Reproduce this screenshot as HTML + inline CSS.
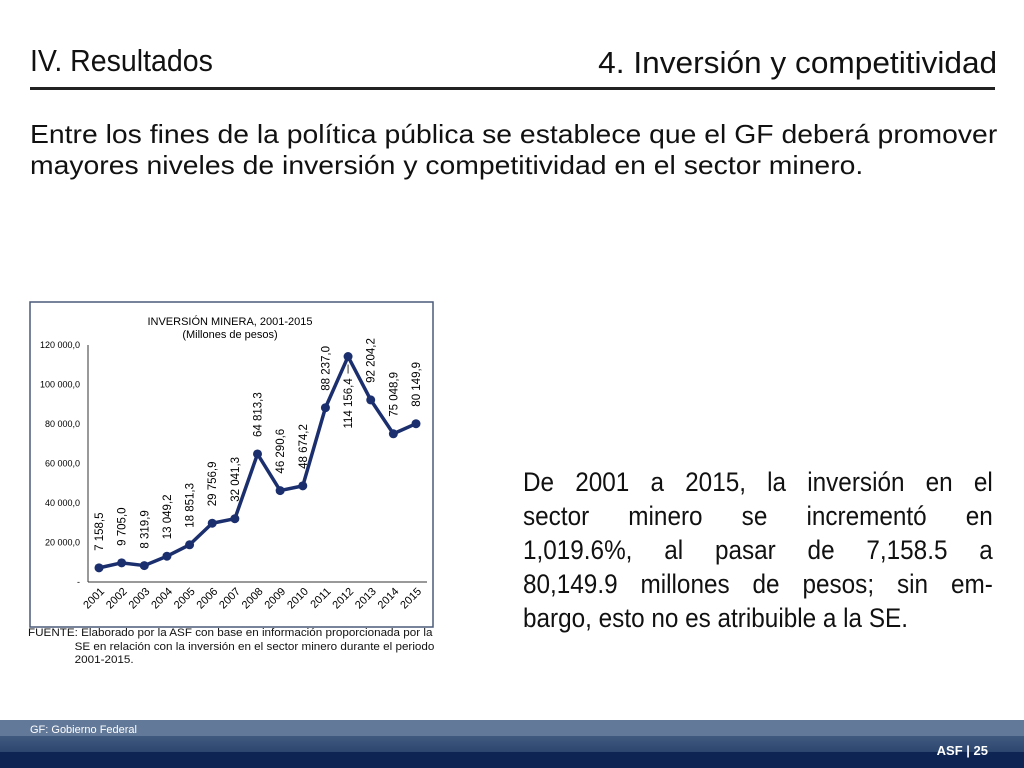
<!DOCTYPE html>
<html><head><meta charset="utf-8"><style>
body{margin:0;width:1024px;height:768px;background:#fff;position:relative;overflow:hidden;font-family:"Liberation Sans",sans-serif;}
.abs{position:absolute;white-space:nowrap;}
.jl{text-align:justify;text-align-last:justify;white-space:normal;}
</style></head><body>
<div class="abs" style="left:30px;top:43px;font-size:31px;color:#111;transform:scaleX(0.92);transform-origin:left;">IV. Resultados</div>
<div class="abs" style="right:27px;top:45px;font-size:31px;color:#111;transform:scaleX(1.02);transform-origin:right;">4. Inversión y competitividad</div>
<div class="abs" style="left:30px;top:87px;width:965px;height:3px;background:#222;"></div>
<div class="abs" style="left:30px;top:119px;font-size:26px;line-height:31px;color:#111;transform:scaleX(1.09);transform-origin:left;">Entre los fines de la política pública se establece que el GF deberá promover<br>mayores niveles de inversión y competitividad en el sector minero.</div>

<svg class="abs" style="left:0;top:0" width="1024" height="768">
<rect x="30" y="302" width="403" height="325" fill="#fff" stroke="#4a5a78" stroke-width="1.5"/>
<text x="230" y="325" font-size="11" text-anchor="middle" font-family="Liberation Sans">INVERSIÓN MINERA, 2001-2015</text>
<text x="230" y="338" font-size="11" text-anchor="middle" font-family="Liberation Sans">(Millones de pesos)</text>
<g id="axes"></g><g id="marks"></g>
</svg>
<script>
const years=["2001","2002","2003","2004","2005","2006","2007","2008","2009","2010","2011","2012","2013","2014","2015"];
const values=[7158.5,9705.0,8319.9,13049.2,18851.3,29756.9,32041.3,64813.3,46290.6,48674.2,88237.0,114156.4,92204.2,75048.9,80149.9];
const valueLabels=["7 158,5","9 705,0","8 319,9","13 049,2","18 851,3","29 756,9","32 041,3","64 813,3","46 290,6","48 674,2","88 237,0","114 156,4","92 204,2","75 048,9","80 149,9"];
const yTicks=[0,20000,40000,60000,80000,100000,120000];
const yTickLabels=["-","20 000,0","40 000,0","60 000,0","80 000,0","100 000,0","120 000,0"];
const NS="http://www.w3.org/2000/svg";
const x=i=>99+i*(416-99)/14;
const y=v=>582-v*(582-345)/120000;
const ax=document.getElementById('axes'),mk=document.getElementById('marks');
function mkEl(t,a,p){const e=document.createElementNS(NS,t);for(const k in a)e.setAttribute(k,a[k]);p.appendChild(e);return e;}
let l=mkEl('line',{x1:88,y1:345,x2:88,y2:582,stroke:'#333'},ax);


l=mkEl('line',{x1:88,y1:582,x2:427,y2:582,stroke:'#333'},ax);


yTicks.forEach((v,i)=>{const t=mkEl('text',{x:80,y:y(v)+3,'font-size':9,'text-anchor':'end','font-family':'Liberation Sans'},ax);t.textContent=yTickLabels[i];

});
years.forEach((yr,i)=>{const t=mkEl('text',{x:x(i)+6,y:592,'font-size':11,'text-anchor':'end','font-family':'Liberation Sans',transform:`rotate(-45 ${x(i)+6} 592)`},ax);t.textContent=yr;

});
const pl=mkEl('polyline',{points:values.map((v,i)=>x(i)+','+y(v)).join(' '),fill:'none',stroke:'#1b2f6e','stroke-width':3.5,'stroke-linejoin':'round'},mk);


values.forEach((v,i)=>{const c=mkEl('circle',{cx:x(i),cy:y(v),r:4.5,fill:'#1b2f6e'},mk);


let lx=x(i)+4,ly=y(v)-17;
if(i===11){lx=x(i)+4;ly=y(v)+72;mkEl('line',{x1:x(i),y1:y(v)+8,x2:x(i),y2:y(v)+17,stroke:'#333'},mk);}
const t=mkEl('text',{x:lx,y:ly,'font-size':11.5,'font-family':'Liberation Sans',transform:`rotate(-90 ${lx} ${ly})`},mk);t.textContent=valueLabels[i];

});
</script>

<div class="abs" style="left:28px;top:627px;font-size:11px;line-height:13.5px;color:#111;transform:scaleX(1.06);transform-origin:left;">FUENTE: Elaborado por la ASF con base en información proporcionada por la<br><span style="padding-left:44px">SE en relación con la inversión en el sector minero durante el periodo</span><br><span style="padding-left:44px">2001-2015.</span></div>
<div class="abs" style="left:523px;top:465px;width:522px;font-size:27px;line-height:34px;color:#111;white-space:normal;transform:scaleX(0.9);transform-origin:left;">
<div class="jl">De 2001 a 2015, la inversión en el</div>
<div class="jl">sector minero se incrementó en</div>
<div class="jl">1,019.6%, al pasar de 7,158.5 a</div>
<div class="jl">80,149.9 millones de pesos; sin em-</div>
<div>bargo, esto no es atribuible a la SE.</div>
</div>

<div class="abs" style="left:0;top:720px;width:1024px;height:16px;background:#627999;"></div>
<div class="abs" style="left:0;top:736px;width:1024px;height:16px;background:linear-gradient(#40597f,#2c466f);"></div>
<div class="abs" style="left:0;top:752px;width:1024px;height:16px;background:#0e2452;"></div>
<div class="abs" style="left:30px;top:724px;font-size:11px;color:#fff;">GF: Gobierno Federal</div>
<div class="abs" style="right:36px;top:743px;font-size:13px;font-weight:bold;color:#fff;">ASF | 25</div>
</body></html>
